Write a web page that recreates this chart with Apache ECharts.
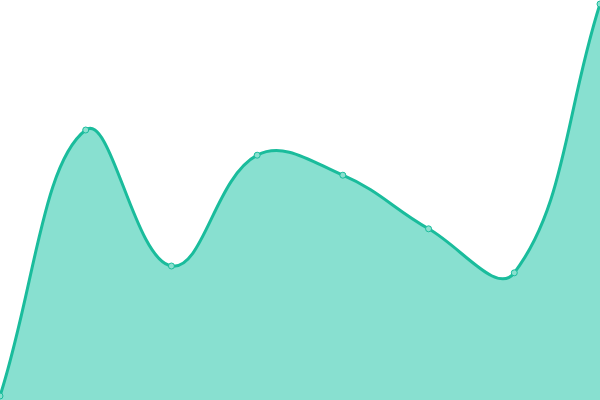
<!DOCTYPE html>
<html>
<head>
<meta charset="utf-8">
<script src="https://cdn.jsdelivr.net/npm/echarts@6/dist/echarts.min.js"></script>
<style>
	html, body { margin: 0; padding: 0; background: #fff; }
	#main { width: 600px; height: 400px; }
</style>
</head>
<body>
<div id="main"></div>
<script>
	var categories = ['1', '2', '3', '4', '5', '6', '7', '8'];
	var values = [1, 67.5, 33.5, 61.2, 56.2, 42.8, 31.8, 99];

	var myChart = echarts.init(document.getElementById('main'));

	// spline with tension, control points kept inside the plot area (may overshoot the points)
	function smoothPath(pts, t, area) {
		function clamp(p) {
			return [
				Math.min(Math.max(p[0], area.x), area.x + area.width),
				Math.min(Math.max(p[1], area.y), area.y + area.height)
			];
		}
		var cps = pts.map(function(cur, i) {
			var prev = pts[i - 1] || cur, next = pts[i + 1] || cur;
			var d01 = Math.hypot(cur[0] - prev[0], cur[1] - prev[1]);
			var d12 = Math.hypot(next[0] - cur[0], next[1] - cur[1]);
			var s01 = d01 / (d01 + d12), s12 = d12 / (d01 + d12);
			if (isNaN(s01)) s01 = 0;
			if (isNaN(s12)) s12 = 0;
			var fa = t * s01, fb = t * s12;
			var vx = next[0] - prev[0], vy = next[1] - prev[1];
			return {
				before: clamp([cur[0] - fa * vx, cur[1] - fa * vy]),
				after: clamp([cur[0] + fb * vx, cur[1] + fb * vy])
			};
		});
		var d = 'M' + pts[0][0] + ',' + pts[0][1];
		for (var j = 1; j < pts.length; j++) {
			var c0 = cps[j - 1].after, c1 = cps[j].before;
			d += 'C' + c0[0] + ',' + c0[1] + ',' + c1[0] + ',' + c1[1] + ',' + pts[j][0] + ',' + pts[j][1];
		}
		return d;
	}

	function renderCurve(params, api) {
		if (params.dataIndex !== 0) return;
		var pts = values.map(function(v, i) {
			return api.coord([i, v]);
		});
		var line = smoothPath(pts, 0.4, params.coordSys);
		var b1 = api.coord([values.length - 1, 0]);
		var b0 = api.coord([0, 0]);
		var area = line + 'L' + b1[0] + ',' + b1[1] + 'L' + b0[0] + ',' + b0[1] + 'Z';
		return {
			type: 'group',
			children: [{
				type: 'path',
				shape: { pathData: area },
				style: { fill: '#88e0d0', stroke: null }
			}, {
				type: 'path',
				shape: { pathData: line },
				style: { fill: null, stroke: '#1abc9c', lineWidth: 3 }
			}]
		};
	}

	var option = {
		animation: false,
		grid: {
			left: 0,
			right: 0,
			top: 0,
			bottom: 0
		},
		xAxis: {
			type: 'category',
			boundaryGap: false,
			data: categories,
			show: false
		},
		yAxis: {
			type: 'value',
			min: 0,
			max: 100,
			show: false
		},
		series: [{
			type: 'custom',
			renderItem: renderCurve,
			clip: false,
			data: [[0, 0]],
			z: 1
		}, {
			type: 'scatter',
			data: values,
			symbol: 'circle',
			symbolSize: 6,
			itemStyle: {
				color: '#8ae0cf',
				borderColor: '#1abc9c',
				borderWidth: 1,
				opacity: 1
			},
			z: 2
		}]
	};
	myChart.setOption(option);
</script>
</body>
</html>
